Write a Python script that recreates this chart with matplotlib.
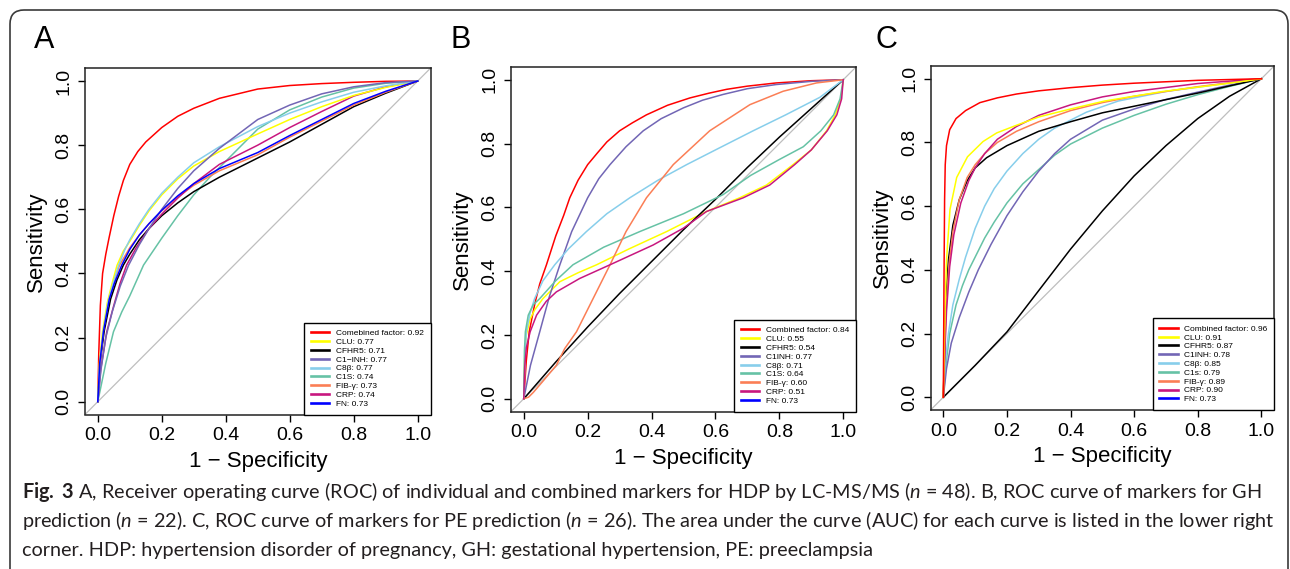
import matplotlib
matplotlib.use("Agg")
import matplotlib.pyplot as plt
from matplotlib.lines import Line2D
from matplotlib.patches import FancyBboxPatch

# ---------------- data ----------------
series_names = ["Combined", "CLU", "CFHR5", "C1INH", "C8b", "C1S", "FIB", "CRP", "FN"]
series_colors = ["#FF0000", "#FFFF00", "#000000", "#7266B5", "#87CEEB",
                 "#66C2A5", "#FB7E55", "#C8177F", "#0000FF"]

labels_a = ["Comebined factor: 0.92", "CLU: 0.77", "CFHR5: 0.71", "C1\u2212INH: 0.77",
            "C8\u03b2: 0.77", "C1S: 0.74", "FIB-\u03b3: 0.73", "CRP: 0.74", "FN: 0.73"]
labels_b = ["Combined factor: 0.84", "CLU: 0.55", "CFHR5: 0.54", "C1INH: 0.77",
            "C8\u03b2: 0.71", "C1S: 0.64", "FIB-\u03b3: 0.60", "CRP: 0.51", "FN: 0.73"]
labels_c = ["Combined factor: 0.96", "CLU: 0.91", "CFHR5: 0.87", "C1INH: 0.78",
            "C8\u03b2: 0.85", "C1s: 0.79", "FIB-\u03b3: 0.89", "CRP: 0.90", "FN: 0.73"]

tick_vals = [0.0, 0.2, 0.4, 0.6, 0.8, 1.0]
tick_labels = ["0.0", "0.2", "0.4", "0.6", "0.8", "1.0"]

# Panel A
a_comb_x = [0, 0.003, 0.008, 0.015, 0.025, 0.035, 0.05, 0.065, 0.08, 0.10, 0.125, 0.15, 0.2, 0.25, 0.3, 0.38, 0.5, 0.6, 0.7, 0.8, 0.9, 1]
a_comb_y = [0, 0.15, 0.30, 0.40, 0.46, 0.51, 0.58, 0.64, 0.69, 0.74, 0.78, 0.81, 0.855, 0.89, 0.915, 0.946, 0.975, 0.986, 0.992, 0.996, 0.999, 1]
a_clu_x = [0, 0.005, 0.015, 0.03, 0.045, 0.06, 0.08, 0.10, 0.13, 0.16, 0.2, 0.25, 0.3, 0.38, 0.5, 0.6, 0.7, 0.8, 0.9, 1]
a_clu_y = [0, 0.12, 0.22, 0.31, 0.37, 0.425, 0.47, 0.5, 0.55, 0.595, 0.645, 0.695, 0.735, 0.78, 0.835, 0.88, 0.92, 0.955, 0.98, 1]
a_cfhr5_x = [0, 0.007, 0.02, 0.04, 0.06, 0.08, 0.10, 0.13, 0.16, 0.2, 0.25, 0.3, 0.38, 0.5, 0.6, 0.7, 0.8, 0.9, 1]
a_cfhr5_y = [0, 0.12, 0.22, 0.32, 0.38, 0.426, 0.46, 0.505, 0.54, 0.58, 0.62, 0.655, 0.70, 0.76, 0.81, 0.865, 0.92, 0.962, 1]
a_c1inh_x = [0, 0.01, 0.025, 0.045, 0.07, 0.096, 0.13, 0.16, 0.2, 0.25, 0.3, 0.38, 0.5, 0.6, 0.7, 0.8, 0.9, 1]
a_c1inh_y = [0, 0.10, 0.20, 0.28, 0.36, 0.425, 0.49, 0.54, 0.60, 0.665, 0.72, 0.79, 0.88, 0.925, 0.96, 0.982, 0.995, 1]
a_c8b_x = [0, 0.006, 0.017, 0.032, 0.048, 0.065, 0.085, 0.10, 0.13, 0.16, 0.2, 0.25, 0.3, 0.38, 0.5, 0.6, 0.7, 0.8, 0.9, 1]
a_c8b_y = [0, 0.12, 0.22, 0.31, 0.37, 0.425, 0.475, 0.505, 0.555, 0.6, 0.65, 0.70, 0.745, 0.795, 0.858, 0.9, 0.935, 0.965, 0.985, 1]
a_c1s_x = [0, 0.025, 0.049, 0.075, 0.10, 0.143, 0.2, 0.25, 0.3, 0.35, 0.4, 0.5, 0.6, 0.7, 0.8, 0.9, 1]
a_c1s_y = [0, 0.12, 0.218, 0.28, 0.33, 0.426, 0.51, 0.58, 0.645, 0.70, 0.75, 0.85, 0.91, 0.95, 0.978, 0.993, 1]
a_fib_x = [0, 0.006, 0.017, 0.034, 0.05, 0.068, 0.1, 0.13, 0.16, 0.2, 0.25, 0.3, 0.38, 0.5, 0.6, 0.7, 0.8, 0.9, 1]
a_fib_y = [0, 0.12, 0.22, 0.32, 0.372, 0.426, 0.48, 0.52, 0.555, 0.595, 0.638, 0.675, 0.72, 0.77, 0.825, 0.875, 0.925, 0.965, 1]
a_crp_x = [0, 0.009, 0.028, 0.05, 0.07, 0.09, 0.12, 0.16, 0.2, 0.25, 0.3, 0.38, 0.5, 0.6, 0.7, 0.8, 0.9, 1]
a_crp_y = [0, 0.10, 0.218, 0.30, 0.37, 0.426, 0.48, 0.54, 0.585, 0.635, 0.68, 0.74, 0.80, 0.855, 0.905, 0.953, 0.982, 1]
a_fn_x = [0, 0.006, 0.018, 0.036, 0.052, 0.075, 0.1, 0.13, 0.16, 0.2, 0.25, 0.3, 0.38, 0.5, 0.6, 0.7, 0.8, 0.9, 1]
a_fn_y = [0, 0.12, 0.22, 0.32, 0.37, 0.426, 0.475, 0.52, 0.555, 0.597, 0.642, 0.68, 0.727, 0.777, 0.83, 0.88, 0.93, 0.968, 1]

# Panel B
b_comb_x = [0, 0.008, 0.017, 0.035, 0.05, 0.071, 0.1, 0.125, 0.144, 0.17, 0.2, 0.23, 0.26, 0.3, 0.34, 0.384, 0.45, 0.52, 0.58, 0.635, 0.7, 0.79, 0.9, 1]
b_comb_y = [0, 0.12, 0.21, 0.30, 0.36, 0.42, 0.51, 0.575, 0.63, 0.685, 0.734, 0.77, 0.805, 0.84, 0.865, 0.89, 0.92, 0.943, 0.958, 0.97, 0.98, 0.99, 0.997, 1]
b_clu_x = [0, 0.003, 0.008, 0.02, 0.035, 0.06, 0.113, 0.17, 0.228, 0.33, 0.447, 0.572, 0.676, 0.76, 0.843, 0.9, 0.948, 0.975, 0.993, 1]
b_clu_y = [0, 0.13, 0.2, 0.25, 0.28, 0.314, 0.367, 0.395, 0.42, 0.47, 0.524, 0.587, 0.63, 0.67, 0.734, 0.78, 0.84, 0.89, 0.943, 1]
b_cfhr5_x = [0, 0.1, 0.2, 0.3, 0.4, 0.5, 0.6, 0.7, 0.8, 0.9, 1]
b_cfhr5_y = [0, 0.115, 0.225, 0.33, 0.43, 0.53, 0.625, 0.725, 0.82, 0.91, 1]
b_c1inh_x = [0, 0.021, 0.05, 0.08, 0.113, 0.15, 0.2, 0.235, 0.27, 0.32, 0.374, 0.43, 0.5, 0.56, 0.624, 0.7, 0.79, 0.9, 1]
b_c1inh_y = [0, 0.105, 0.21, 0.32, 0.42, 0.524, 0.63, 0.69, 0.734, 0.79, 0.84, 0.878, 0.912, 0.936, 0.954, 0.972, 0.985, 0.995, 1]
b_c8b_x = [0, 0.004, 0.008, 0.02, 0.034, 0.06, 0.097, 0.14, 0.196, 0.26, 0.332, 0.42, 0.51, 0.6, 0.718, 0.82, 0.927, 1]
b_c8b_y = [0, 0.12, 0.21, 0.27, 0.314, 0.37, 0.42, 0.47, 0.524, 0.58, 0.63, 0.685, 0.734, 0.78, 0.84, 0.89, 0.945, 1]
b_c1s_x = [0, 0.002, 0.005, 0.014, 0.03, 0.05, 0.1, 0.154, 0.25, 0.363, 0.5, 0.624, 0.71, 0.8, 0.875, 0.93, 0.97, 0.99, 1]
b_c1s_y = [0, 0.15, 0.21, 0.262, 0.295, 0.314, 0.37, 0.42, 0.475, 0.524, 0.58, 0.64, 0.70, 0.75, 0.79, 0.84, 0.89, 0.94, 1]
b_fib_x = [0, 0.015, 0.03, 0.06, 0.102, 0.128, 0.165, 0.217, 0.27, 0.32, 0.384, 0.468, 0.582, 0.708, 0.812, 0.916, 1]
b_fib_y = [0, 0.005, 0.02, 0.055, 0.105, 0.157, 0.21, 0.314, 0.42, 0.524, 0.63, 0.734, 0.84, 0.922, 0.964, 0.99, 1]
b_crp_x = [0, 0.003, 0.008, 0.02, 0.04, 0.07, 0.102, 0.175, 0.27, 0.405, 0.5, 0.572, 0.687, 0.77, 0.848, 0.9, 0.95, 0.98, 0.995, 1]
b_crp_y = [0, 0.1, 0.16, 0.21, 0.262, 0.305, 0.335, 0.377, 0.42, 0.482, 0.535, 0.587, 0.63, 0.67, 0.734, 0.78, 0.84, 0.89, 0.94, 1]

# Panel C
c_comb_x = [0, 0.002, 0.004, 0.006, 0.01, 0.02, 0.04, 0.07, 0.115, 0.17, 0.23, 0.3, 0.4, 0.5, 0.6, 0.8, 1]
c_comb_y = [0, 0.35, 0.62, 0.73, 0.79, 0.84, 0.875, 0.9, 0.925, 0.94, 0.952, 0.962, 0.972, 0.98, 0.986, 0.995, 1]
c_clu_x = [0, 0.003, 0.006, 0.01, 0.021, 0.042, 0.076, 0.125, 0.168, 0.225, 0.3, 0.4, 0.507, 0.69, 0.9, 1]
c_clu_y = [0, 0.15, 0.3, 0.43, 0.59, 0.69, 0.755, 0.803, 0.83, 0.852, 0.88, 0.905, 0.93, 0.96, 0.986, 1]
c_cfhr5_x = [0, 0.004, 0.008, 0.016, 0.03, 0.05, 0.075, 0.1, 0.136, 0.2, 0.3, 0.4, 0.5, 0.64, 0.8, 1]
c_cfhr5_y = [0, 0.15, 0.3, 0.43, 0.54, 0.62, 0.68, 0.72, 0.752, 0.79, 0.835, 0.865, 0.893, 0.922, 0.955, 1]
c_c1inh_x = [0, 0.01, 0.025, 0.05, 0.08, 0.11, 0.15, 0.2, 0.25, 0.3, 0.35, 0.4, 0.45, 0.5, 0.6, 0.7, 0.8, 0.9, 1]
c_c1inh_y = [0, 0.09, 0.17, 0.25, 0.33, 0.40, 0.48, 0.57, 0.645, 0.71, 0.765, 0.81, 0.84, 0.87, 0.905, 0.935, 0.958, 0.98, 1]
c_c8b_x = [0, 0.005, 0.016, 0.03, 0.05, 0.07, 0.1, 0.13, 0.16, 0.2, 0.25, 0.3, 0.35, 0.45, 0.55, 0.7, 0.85, 1]
c_c8b_y = [0, 0.1, 0.2, 0.29, 0.37, 0.44, 0.53, 0.6, 0.655, 0.71, 0.765, 0.81, 0.845, 0.895, 0.93, 0.96, 0.98, 1]
c_c1s_x = [0, 0.008, 0.02, 0.04, 0.06, 0.08, 0.1, 0.13, 0.16, 0.2, 0.25, 0.3, 0.35, 0.4, 0.5, 0.6, 0.7, 0.8, 0.9, 1]
c_c1s_y = [0, 0.1, 0.2, 0.29, 0.35, 0.40, 0.44, 0.50, 0.55, 0.61, 0.67, 0.715, 0.76, 0.795, 0.845, 0.885, 0.92, 0.95, 0.976, 1]
c_fib_x = [0, 0.004, 0.01, 0.018, 0.03, 0.05, 0.075, 0.1, 0.13, 0.17, 0.23, 0.3, 0.4, 0.5, 0.6, 0.8, 1]
c_fib_y = [0, 0.15, 0.3, 0.42, 0.52, 0.62, 0.69, 0.73, 0.765, 0.8, 0.835, 0.865, 0.9, 0.925, 0.945, 0.975, 1]
c_crp_x = [0, 0.004, 0.01, 0.02, 0.033, 0.055, 0.08, 0.1, 0.13, 0.17, 0.23, 0.3, 0.4, 0.5, 0.6, 0.8, 1]
c_crp_y = [0, 0.12, 0.27, 0.41, 0.51, 0.61, 0.68, 0.72, 0.765, 0.81, 0.85, 0.885, 0.918, 0.943, 0.96, 0.985, 1]
c_low_x = [0, 0.1, 0.2, 0.3, 0.4, 0.5, 0.6, 0.7, 0.8, 0.9, 1]
c_low_y = [0, 0.1, 0.205, 0.335, 0.465, 0.585, 0.695, 0.79, 0.875, 0.945, 1]

panel_letters = ["A", "B", "C"]

caption_lines = [
    r"$\bf{Fig.\ 3}$ A, Receiver operating curve (ROC) of individual and combined markers for HDP by LC-MS/MS ($\it{n}$ = 48). B, ROC curve of markers for GH",
    r"prediction ($\it{n}$ = 22). C, ROC curve of markers for PE prediction ($\it{n}$ = 26). The area under the curve (AUC) for each curve is listed in the lower right",
    r"corner. HDP: hypertension disorder of pregnancy, GH: gestational hypertension, PE: preeclampsia",
]

# ---------------- drawing ----------------
plt.rcParams['font.family'] = ['Liberation Sans', 'DejaVu Sans']
plt.rcParams['mathtext.fontset'] = 'custom'
plt.rcParams['mathtext.rm'] = 'Lato'
plt.rcParams['mathtext.it'] = 'Lato:italic'
plt.rcParams['mathtext.bf'] = 'Lato:bold'

W, H = 1290, 569
fig = plt.figure(figsize=(W / 100, H / 100), dpi=100)
bg = fig.add_axes([0, 0, 1, 1], zorder=-5)
bg.set_xlim(0, W)
bg.set_ylim(H, 0)
bg.axis('off')
bg.add_patch(FancyBboxPatch((10, 10), 1278, 600, boxstyle="round,pad=0,rounding_size=14",
                            fc='white', ec='#3a3a3a', lw=1.2))

panels = [
    (labels_a, [(a_comb_x, a_comb_y, 0), (a_c1s_x, a_c1s_y, 5), (a_cfhr5_x, a_cfhr5_y, 2),
                (a_fib_x, a_fib_y, 6), (a_crp_x, a_crp_y, 7), (a_clu_x, a_clu_y, 1),
                (a_c8b_x, a_c8b_y, 4), (a_c1inh_x, a_c1inh_y, 3), (a_fn_x, a_fn_y, 8)]),
    (labels_b, [(b_comb_x, b_comb_y, 0), (b_clu_x, b_clu_y, 1), (b_cfhr5_x, b_cfhr5_y, 2),
                (b_c1inh_x, b_c1inh_y, 3), (b_c8b_x, b_c8b_y, 4), (b_c1s_x, b_c1s_y, 5),
                (b_fib_x, b_fib_y, 6), (b_crp_x, b_crp_y, 7)]),
    (labels_c, [(c_low_x, c_low_y, 2), (c_c1s_x, c_c1s_y, 5), (c_c1inh_x, c_c1inh_y, 3),
                (c_c8b_x, c_c8b_y, 4), (c_cfhr5_x, c_cfhr5_y, 2), (c_fib_x, c_fib_y, 6),
                (c_crp_x, c_crp_y, 7), (c_clu_x, c_clu_y, 1), (c_comb_x, c_comb_y, 0)]),
]

rects = [[85 / W, 1 - 414.5 / H, 345.5 / W, 346.3 / H],
         [511 / W, 1 - 411.5 / H, 345.0 / W, 344.5 / H],
         [930.6 / W, 1 - 410 / H, 343.5 / W, 344.0 / H]]
letter_pos = [(44, 40), (461, 40), (886, 40)]

for (labels, curves), rect, lp, letter in zip(panels, rects, letter_pos, panel_letters):
    ax = fig.add_axes(rect)
    ax.axline((0, 0), (1, 1), color='#BEBEBE', lw=0.9, zorder=1)
    for xs, ys, ci in curves:
        ax.plot(xs, ys, color=series_colors[ci], lw=1.1, zorder=2, solid_joinstyle='round')
    ax.set_xlim(-0.04, 1.04)
    ax.set_ylim(-0.04, 1.04)
    ax.set_xticks(tick_vals)
    ax.set_xticklabels(tick_labels)
    ax.set_yticks(tick_vals)
    ax.set_yticklabels(tick_labels, rotation=90, va='center')
    ax.tick_params(direction='out', length=5, width=1.0, labelsize=14, pad=4, colors='black')
    for s in ax.spines.values():
        s.set_linewidth(1.1)
        s.set_color('#222222')
    ax.set_xlabel("1 \u2212 Specificity", fontsize=16, labelpad=5)
    ax.set_ylabel("Sensitivity", fontsize=16, labelpad=6)
    handles = [Line2D([], [], color=c, lw=1.9) for c in series_colors]
    leg = ax.legend(handles, labels, loc='lower right', fontsize=6, borderaxespad=0,
                    fancybox=False, framealpha=1, edgecolor='black', labelspacing=0.12,
                    handlelength=2.2, handletextpad=0.8, borderpad=0.8)
    leg.get_frame().set_linewidth(1.0)
    bg.text(lp[0], lp[1], letter, fontsize=22, ha='center', va='center')

# caption fitted to the reference line width
renderer = fig.canvas.get_renderer()
base_fs = 12
caps = []
for i, line in enumerate(caption_lines):
    t = bg.text(22, 498 + 29 * i, line, fontsize=base_fs, ha='left', va='baseline',
                family='Lato', color='#231F20')
    caps.append(t)
w2 = caps[1].get_window_extent(renderer).width
fs = base_fs * 1247 / w2
for t in caps:
    t.set_fontsize(fs)

fig.savefig("out.png", dpi=100)
